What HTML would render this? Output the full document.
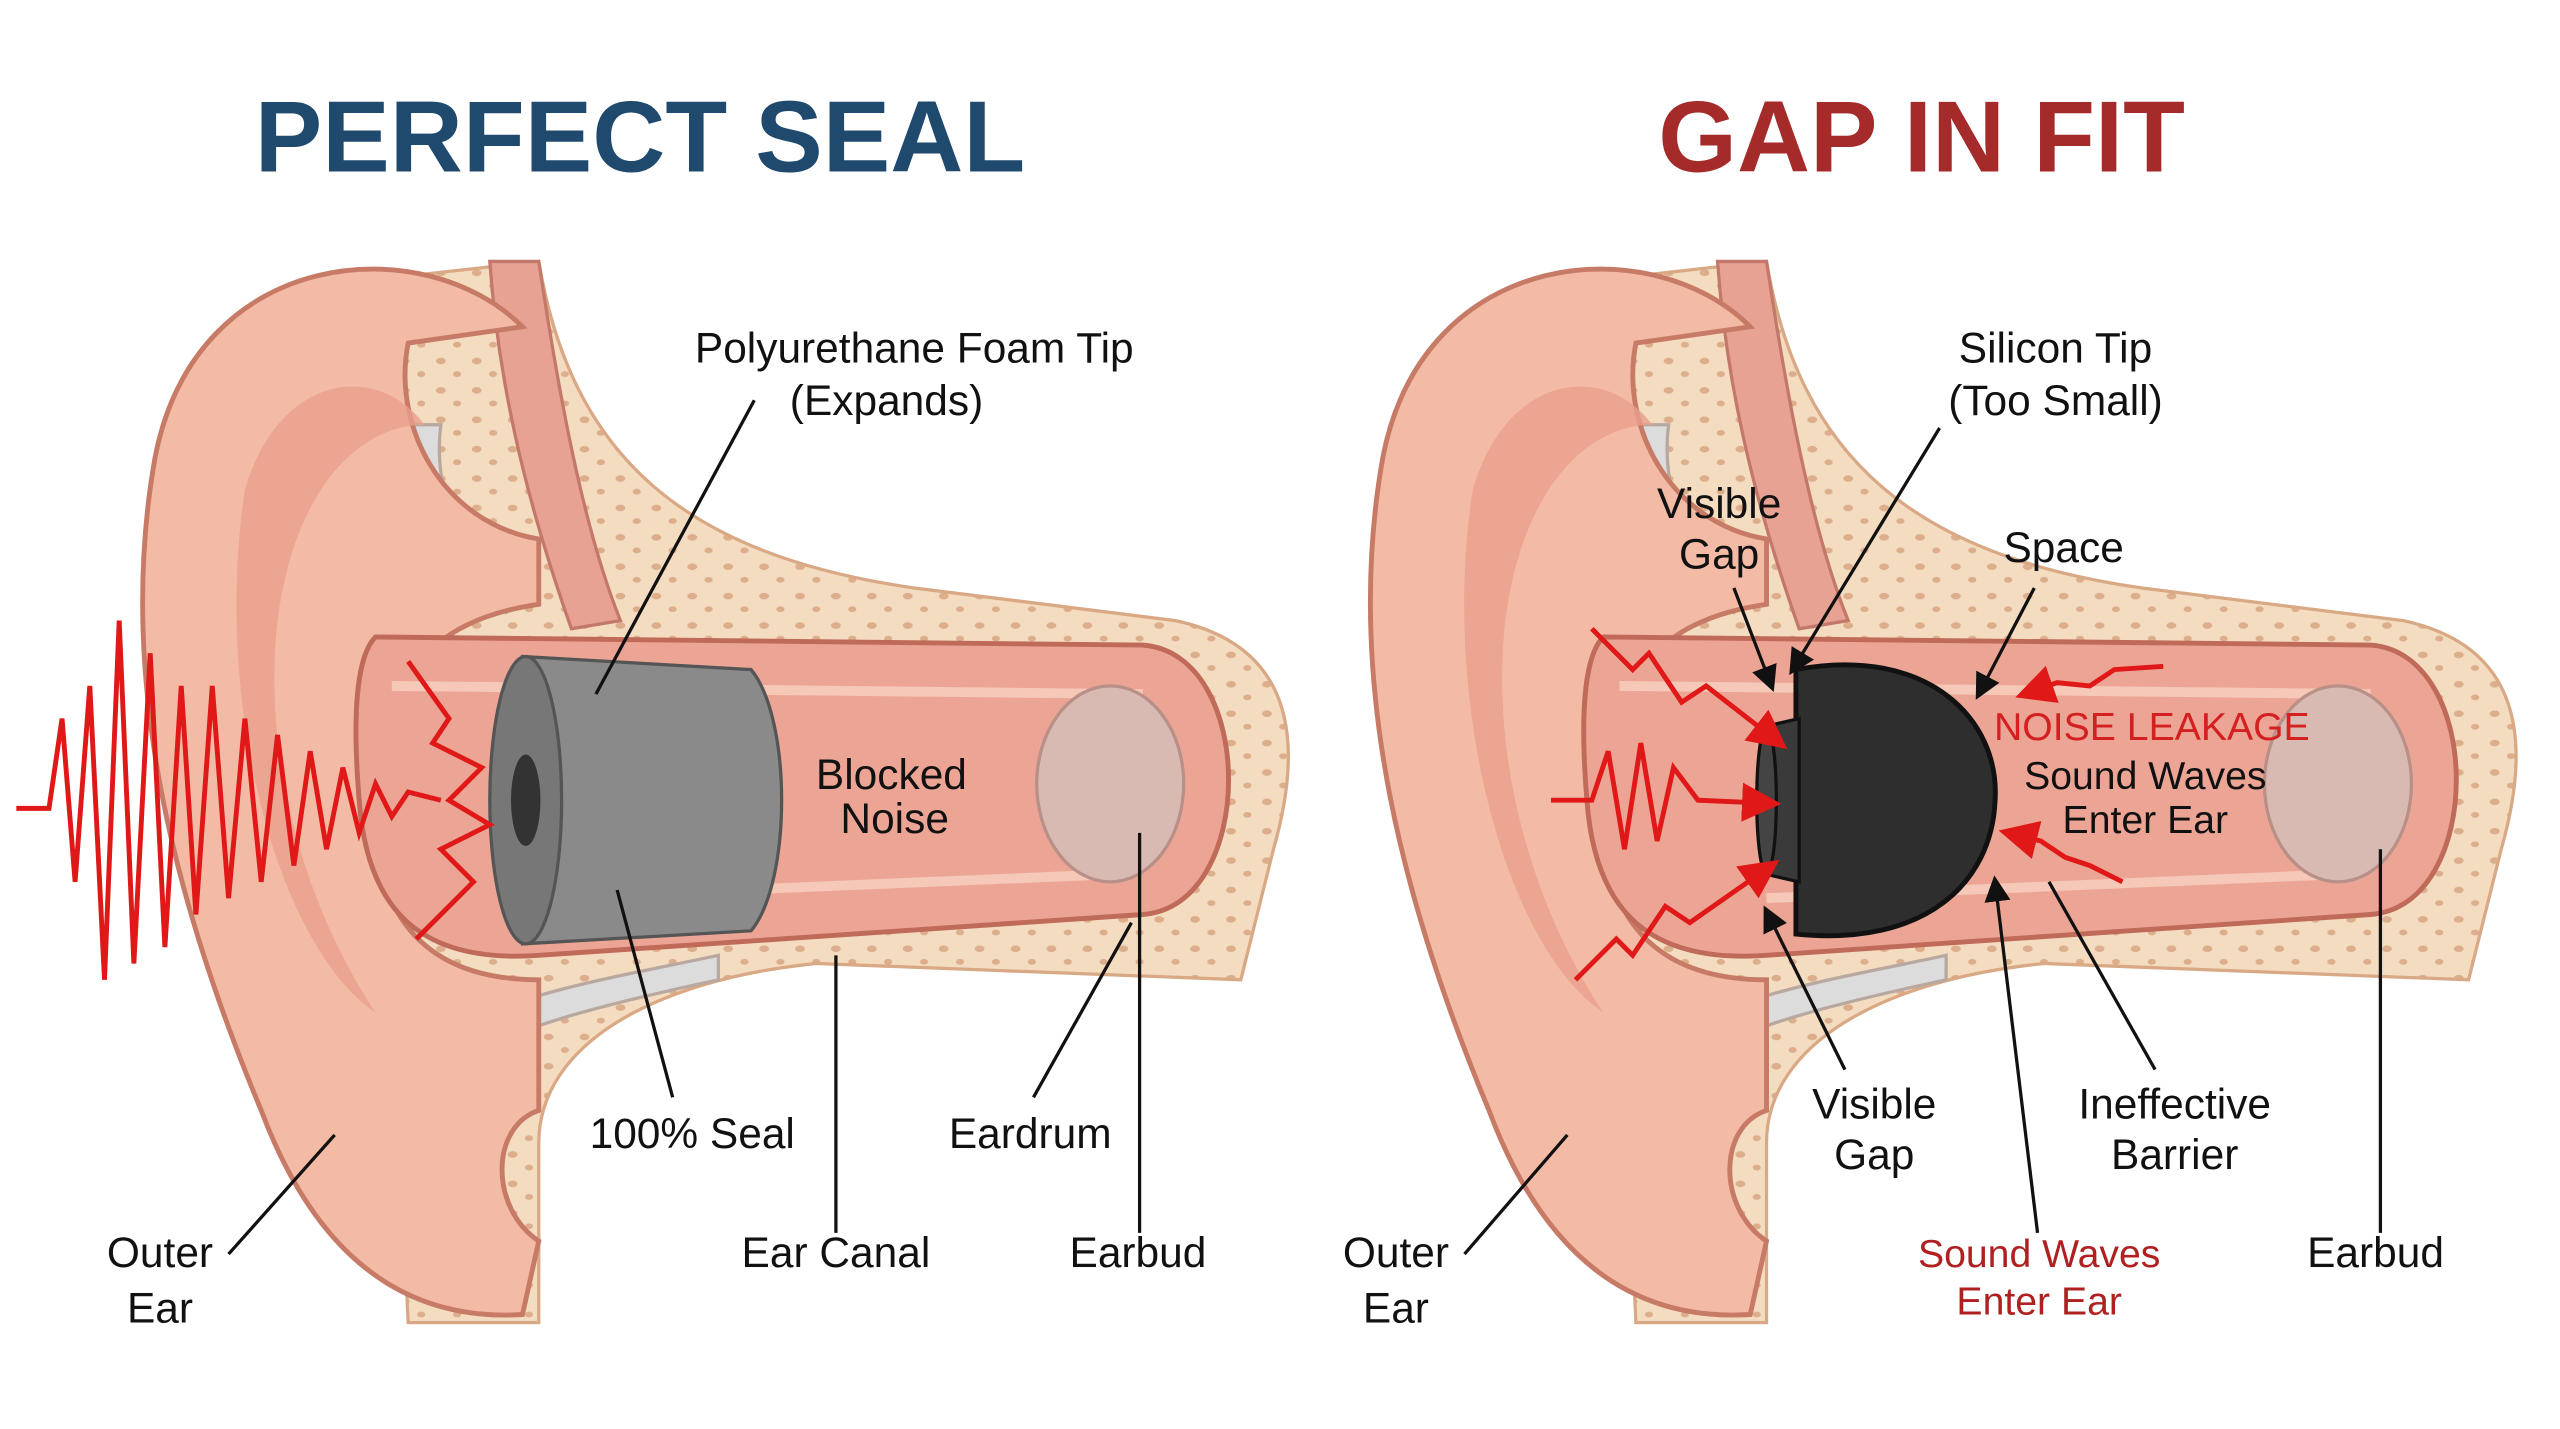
<!DOCTYPE html>
<html><head><meta charset="utf-8"><style>
html,body{margin:0;padding:0;background:#fff;}
svg{display:block;}
text{font-family:"Liberation Sans",sans-serif;}
</style></head><body>
<svg width="2560" height="1429" viewBox="0 0 1568 875" xmlns="http://www.w3.org/2000/svg">
<defs>
<pattern id="dots" width="22" height="18" patternUnits="userSpaceOnUse">
<rect width="22" height="18" fill="#f4dcc0"/>
<ellipse cx="6" cy="5" rx="3" ry="2" fill="#dcae8c"/>
<ellipse cx="16" cy="13" rx="2.5" ry="1.8" fill="#dcae8c"/>
</pattern>
<marker id="ah" markerWidth="8" markerHeight="8" refX="6" refY="4" orient="auto"><path d="M0,0 L8,4 L0,8 z" fill="#111"/></marker>
<marker id="ar" markerWidth="8" markerHeight="8" refX="6" refY="4" orient="auto"><path d="M0,0 L8,4 L0,8 z" fill="#e01818"/></marker>
<g id="ear">
<path d="M240,170 L330,160 C350,280 420,340 560,360 L720,380 C790,395 800,450 780,520 L760,600 L500,590 C400,600 330,640 330,700 L330,810 L250,810 L240,600 Z" fill="url(#dots)" stroke="#d9a884" stroke-width="2"/>
<path d="M300,160 L330,160 C345,260 360,330 380,380 L350,385 C320,300 305,230 300,160 Z" fill="#e7a294" stroke="#c3786a" stroke-width="2"/>
<path d="M250,260 C240,300 260,350 310,375 L320,360 C280,340 265,300 270,260 Z" fill="#dcdcdc" stroke="#b8a8a0" stroke-width="2"/>
<path d="M270,640 C300,610 370,600 440,585 L440,600 C370,615 310,630 285,650 Z" fill="#dcdcdc" stroke="#b8a8a0" stroke-width="2"/>
<path d="M320,200 C260,140 120,150 95,280 C70,420 110,560 160,680 C190,760 240,810 320,805 L330,760 C300,740 300,690 330,680 L330,600 C260,600 230,560 230,500 C230,420 260,380 330,370 L330,330 C270,320 240,260 250,210 Z" fill="#f3bba6" stroke="#c77b66" stroke-width="3"/>
<path d="M150,300 C170,230 230,220 260,260 C220,260 180,300 170,380 C160,470 190,560 230,620 C170,580 130,430 150,300 Z" fill="#e8a08c" opacity="0.8"/>
<path d="M230,390 L700,395 C770,400 770,555 700,560 L330,585 C260,590 225,560 220,490 C215,430 220,400 230,390 Z" fill="#eca595" stroke="#c06a5a" stroke-width="3"/>
<path d="M240,420 L700,425 M330,550 L690,535" stroke="#f6c8b8" stroke-width="6" fill="none"/>
<ellipse cx="680" cy="480" rx="45" ry="60" fill="#d9bab2" stroke="#b89088" stroke-width="2"/>
</g>
</defs>
<rect width="1568" height="875" fill="#fff"/>
<text x="392" y="105" font-size="62" font-weight="bold" fill="#1f4a6e" text-anchor="middle">PERFECT SEAL</text>
<text x="1177" y="105" font-size="62" font-weight="bold" fill="#a52a2a" text-anchor="middle">GAP IN FIT</text>

<use href="#ear"/>
<use href="#ear" x="752"/>

<path d="M320,402 L460,410 C485,440 485,540 460,570 L320,578 Z" fill="#8a8a8a" stroke="#555" stroke-width="2"/>
<ellipse cx="322" cy="490" rx="22" ry="88" fill="#777" stroke="#555" stroke-width="2"/>
<ellipse cx="322" cy="490" rx="9" ry="28" fill="#333"/>
<polyline points="10,495 30,495 38,440 46,540 55,420 64,600 73,380 82,590 92,400 101,580 111,420 120,560 130,420 140,550 150,440 160,540 170,450 180,530 190,460 200,520 210,470 220,510 230,480 240,500 250,485 270,490" fill="none" stroke="#e01818" stroke-width="3"/>
<polyline points="250,405 275,440 265,455 295,470 275,490 300,505 270,520 290,540 255,575" fill="none" stroke="#e01818" stroke-width="3"/>

<path d="M1100,410 C1180,395 1225,440 1222,490 C1220,540 1180,580 1100,572 Z" fill="#2e2e2e" stroke="#111" stroke-width="3"/>
<path d="M1080,445 L1102,440 L1102,540 L1080,535 Z" fill="#3a3a3a" stroke="#111" stroke-width="2"/>
<ellipse cx="1082" cy="490" rx="6" ry="45" fill="#444" stroke="#111" stroke-width="2"/>
<polyline points="975,385 1000,410 1010,400 1030,430 1045,420 1090,455" fill="none" stroke="#e01818" stroke-width="3" marker-end="url(#ar)"/>
<polyline points="950,490 975,490 985,460 995,520 1005,455 1015,515 1025,470 1040,490 1085,492" fill="none" stroke="#e01818" stroke-width="3" marker-end="url(#ar)"/>
<polyline points="965,600 990,575 1000,585 1020,555 1035,565 1085,530" fill="none" stroke="#e01818" stroke-width="3" marker-end="url(#ar)"/>
<polyline points="1325,408 1295,410 1280,420 1260,418 1240,425" fill="none" stroke="#e01818" stroke-width="3" marker-end="url(#ar)"/>
<polyline points="1300,540 1280,530 1265,525 1250,515 1230,510" fill="none" stroke="#e01818" stroke-width="3" marker-end="url(#ar)"/>

<g stroke="#111" stroke-width="2" fill="none">
<line x1="462" y1="245" x2="365" y2="425"/>
<line x1="412" y1="672" x2="378" y2="545"/>
<line x1="633" y1="672" x2="693" y2="565"/>
<line x1="512" y1="755" x2="512" y2="585"/>
<line x1="698" y1="755" x2="698" y2="510"/>
<line x1="140" y1="768" x2="205" y2="695"/>
<line x1="1188" y1="262" x2="1098" y2="410" marker-end="url(#ah)"/>
<line x1="1062" y1="360" x2="1085" y2="420" marker-end="url(#ah)"/>
<line x1="1246" y1="360" x2="1212" y2="425" marker-end="url(#ah)"/>
<line x1="1130" y1="655" x2="1082" y2="558" marker-end="url(#ah)"/>
<line x1="1320" y1="655" x2="1255" y2="540"/>
<line x1="1248" y1="755" x2="1222" y2="540" marker-end="url(#ah)"/>
<line x1="1458" y1="755" x2="1458" y2="520"/>
<line x1="897" y1="768" x2="960" y2="695"/>
</g>

<g font-size="26" fill="#111" text-anchor="middle">
<text x="560" y="222">Polyurethane Foam Tip</text>
<text x="543" y="254">(Expands)</text>
<text x="546" y="483">Blocked</text>
<text x="548" y="510">Noise</text>
<text x="424" y="703">100% Seal</text>
<text x="631" y="703">Eardrum</text>
<text x="512" y="776">Ear Canal</text>
<text x="697" y="776">Earbud</text>
<text x="98" y="776">Outer</text>
<text x="98" y="810">Ear</text>
<text x="1259" y="222">Silicon Tip</text>
<text x="1259" y="254">(Too Small)</text>
<text x="1053" y="317">Visible</text>
<text x="1053" y="348">Gap</text>
<text x="1264" y="344">Space</text>
<text x="1318" y="453" fill="#d42020" font-size="24">NOISE LEAKAGE</text>
<text x="1314" y="483" font-size="24">Sound Waves</text>
<text x="1314" y="510" font-size="24">Enter Ear</text>
<text x="1148" y="685">Visible</text>
<text x="1148" y="716">Gap</text>
<text x="1332" y="685">Ineffective</text>
<text x="1332" y="716">Barrier</text>
<text x="1249" y="776" fill="#b02020" font-size="24">Sound Waves</text>
<text x="1249" y="805" fill="#b02020" font-size="24">Enter Ear</text>
<text x="1455" y="776">Earbud</text>
<text x="855" y="776">Outer</text>
<text x="855" y="810">Ear</text>
</g>
</svg>
</body></html>
